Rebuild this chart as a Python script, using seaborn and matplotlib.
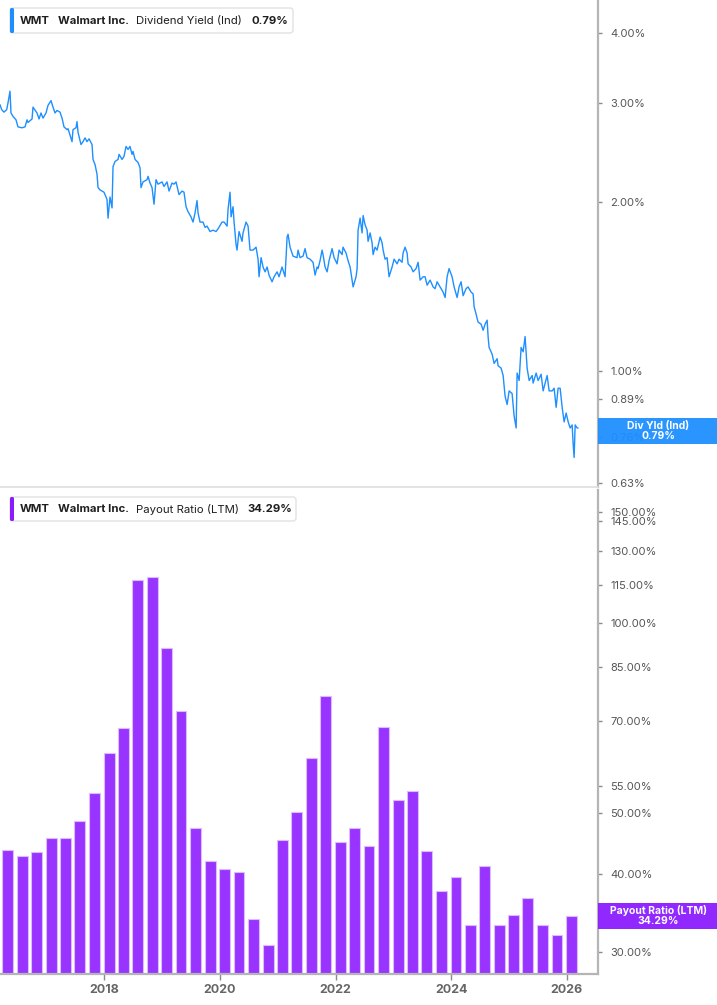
import numpy as np
import pandas as pd
import matplotlib
matplotlib.use("Agg")
import matplotlib.pyplot as plt
from matplotlib.patches import FancyBboxPatch, Rectangle
from matplotlib.ticker import NullLocator
from matplotlib.transforms import IdentityTransform
import seaborn as sns

# Dividend yield (Ind), % (decimal years)
yield_year = [
    2016.196, 2016.225, 2016.265, 2016.312, 2016.334, 2016.369, 2016.386, 2016.421, 2016.473, 2016.507,
    2016.577, 2016.629, 2016.663, 2016.680, 2016.750, 2016.767, 2016.836, 2016.871, 2016.905, 2016.940,
    2016.992, 2017.026, 2017.078, 2017.113, 2017.148, 2017.182, 2017.234, 2017.269, 2017.303, 2017.355,
    2017.373, 2017.407, 2017.442, 2017.459, 2017.511, 2017.528, 2017.546, 2017.597, 2017.632, 2017.667,
    2017.701, 2017.736, 2017.788, 2017.805, 2017.840, 2017.874, 2017.892, 2017.926, 2017.995, 2018.047,
    2018.065, 2018.099, 2018.134, 2018.151, 2018.186, 2018.238, 2018.255, 2018.307, 2018.341, 2018.376,
    2018.411, 2018.445, 2018.480, 2018.497, 2018.532, 2018.584, 2018.618, 2018.635, 2018.670, 2018.739,
    2018.757, 2018.791, 2018.826, 2018.860, 2018.895, 2018.930, 2018.999, 2019.033, 2019.085, 2019.120,
    2019.172, 2019.206, 2019.241, 2019.293, 2019.345, 2019.379, 2019.414, 2019.449, 2019.500, 2019.535,
    2019.570, 2019.604, 2019.622, 2019.656, 2019.708, 2019.743, 2019.777, 2019.829, 2019.881, 2019.933,
    2019.968, 2020.037, 2020.072, 2020.124, 2020.141, 2020.175, 2020.193, 2020.227, 2020.245, 2020.279,
    2020.296, 2020.331, 2020.383, 2020.400, 2020.452, 2020.487, 2020.521, 2020.573, 2020.625, 2020.660,
    2020.677, 2020.712, 2020.746, 2020.781, 2020.816, 2020.850, 2020.902, 2020.937, 2020.989, 2021.023,
    2021.075, 2021.127, 2021.162, 2021.179, 2021.213, 2021.265, 2021.334, 2021.352, 2021.386, 2021.438,
    2021.473, 2021.507, 2021.559, 2021.611, 2021.646, 2021.680, 2021.698, 2021.732, 2021.767, 2021.784,
    2021.819, 2021.854, 2021.888, 2021.940, 2021.975, 2022.027, 2022.061, 2022.113, 2022.130, 2022.182,
    2022.217, 2022.252, 2022.286, 2022.304, 2022.355, 2022.373, 2022.390, 2022.425, 2022.459, 2022.477,
    2022.511, 2022.546, 2022.563, 2022.598, 2022.632, 2022.650, 2022.684, 2022.719, 2022.771, 2022.805,
    2022.823, 2022.857, 2022.892, 2022.926, 2022.978, 2023.013, 2023.065, 2023.099, 2023.151, 2023.168,
    2023.203, 2023.238, 2023.255, 2023.307, 2023.342, 2023.393, 2023.428, 2023.463, 2023.515, 2023.549,
    2023.584, 2023.636, 2023.688, 2023.722, 2023.757, 2023.809, 2023.861, 2023.895, 2023.930, 2023.964,
    2024.016, 2024.051, 2024.103, 2024.137, 2024.172, 2024.207, 2024.258, 2024.293, 2024.345, 2024.380,
    2024.397, 2024.432, 2024.466, 2024.518, 2024.553, 2024.587, 2024.622, 2024.639, 2024.656, 2024.708,
    2024.743, 2024.795, 2024.812, 2024.864, 2024.899, 2024.933, 2024.968, 2025.003, 2025.054, 2025.089,
    2025.124, 2025.141, 2025.176, 2025.210, 2025.245, 2025.279, 2025.314, 2025.349, 2025.401, 2025.418,
    2025.470, 2025.504, 2025.556, 2025.591, 2025.660, 2025.695, 2025.747, 2025.781, 2025.816, 2025.850,
    2025.885, 2025.920, 2025.954, 2025.989, 2026.024, 2026.058, 2026.093, 2026.110, 2026.127, 2026.145,
    2026.179, 2026.196,
]
yield_pct = [
    2.98, 2.92, 2.89, 2.92, 3.00, 3.15, 2.88, 2.84, 2.80, 2.72,
    2.71, 2.72, 2.80, 2.77, 2.81, 2.95, 2.88, 2.81, 2.88, 2.82,
    2.88, 2.97, 3.03, 2.95, 2.88, 2.91, 2.89, 2.82, 2.72, 2.69,
    2.70, 2.63, 2.56, 2.69, 2.71, 2.78, 2.66, 2.53, 2.56, 2.60,
    2.56, 2.59, 2.53, 2.38, 2.33, 2.24, 2.12, 2.10, 2.08, 2.02,
    1.87, 2.04, 1.95, 2.31, 2.36, 2.38, 2.43, 2.38, 2.41, 2.51,
    2.48, 2.51, 2.43, 2.46, 2.38, 2.35, 2.30, 2.12, 2.17, 2.19,
    2.22, 2.16, 2.12, 1.98, 2.19, 2.15, 2.17, 2.13, 2.17, 2.09,
    2.16, 2.15, 2.17, 2.06, 2.09, 2.08, 1.96, 1.92, 1.88, 1.84,
    1.91, 2.01, 1.91, 1.84, 1.84, 1.80, 1.81, 1.77, 1.78, 1.77,
    1.79, 1.84, 1.84, 1.81, 1.94, 2.08, 1.88, 1.96, 1.84, 1.68,
    1.64, 1.77, 1.70, 1.76, 1.84, 1.81, 1.64, 1.64, 1.66, 1.58,
    1.47, 1.59, 1.53, 1.50, 1.53, 1.48, 1.44, 1.47, 1.50, 1.47,
    1.53, 1.47, 1.73, 1.75, 1.66, 1.60, 1.59, 1.64, 1.59, 1.60,
    1.65, 1.59, 1.58, 1.56, 1.48, 1.53, 1.52, 1.57, 1.64, 1.61,
    1.53, 1.50, 1.57, 1.65, 1.59, 1.55, 1.64, 1.61, 1.66, 1.62,
    1.57, 1.53, 1.45, 1.41, 1.47, 1.52, 1.78, 1.87, 1.76, 1.89,
    1.82, 1.78, 1.70, 1.76, 1.69, 1.61, 1.66, 1.64, 1.73, 1.69,
    1.64, 1.58, 1.59, 1.47, 1.53, 1.58, 1.55, 1.58, 1.56, 1.62,
    1.66, 1.62, 1.55, 1.53, 1.50, 1.52, 1.56, 1.45, 1.47, 1.47,
    1.42, 1.45, 1.41, 1.40, 1.44, 1.41, 1.38, 1.35, 1.47, 1.52,
    1.47, 1.41, 1.35, 1.41, 1.44, 1.36, 1.40, 1.41, 1.38, 1.37,
    1.30, 1.26, 1.22, 1.21, 1.18, 1.21, 1.23, 1.15, 1.10, 1.07,
    1.03, 1.05, 1.02, 1.01, 0.98, 0.90, 0.87, 0.92, 0.91, 0.83,
    0.79, 0.99, 0.96, 1.10, 1.08, 1.15, 1.01, 0.96, 0.98, 0.95,
    0.99, 0.96, 0.985, 0.92, 0.98, 0.92, 0.92, 0.93, 0.86, 0.93,
    0.93, 0.86, 0.81, 0.84, 0.81, 0.79, 0.80, 0.74, 0.70, 0.80,
    0.79, 0.79,
]

# Payout ratio (LTM), %, one bar per fiscal quarter end
quarter_end = pd.date_range("2016-04-30", "2026-01-31", freq="QE-JAN").strftime("%Y-%m-%d").tolist()
payout_pct = [
    43.6, 42.6, 43.3, 45.5, 45.5, 48.5, 53.7, 62.2, 68.1, 117.2,
    118.5, 91.4, 72.5, 47.3, 41.9, 40.7, 40.2, 33.9, 30.8, 45.2,
    50.1, 61.1, 76.6, 44.9, 47.3, 44.2, 68.4, 52.4, 54.1, 43.4,
    37.5, 39.5, 33.1, 41.1, 33.2, 34.4, 36.6, 33.2, 31.9, 34.29,
]

top_ticks = [4.00, 3.00, 2.00, 1.00, 0.89, 0.76, 0.63]
bot_ticks = [150, 145, 130, 115, 100, 85, 70, 55, 50, 40, 30]
year_ticks = [2018, 2020, 2022, 2024, 2026]

BLUE = "#1e8fff"
PURPLE = "#9933ff"
PURPLE_DARK = "#8b1cff"
AXIS_GREY = "#b5b5b5"
TEXT_DARK = "#1f1f1f"

sns.set_theme(style="white")
plt.rcParams["font.family"] = ["Inter", "DejaVu Sans"]

W, H = 717, 1005
fig = plt.figure(figsize=(W / 100, H / 100), dpi=100)
ident = IdentityTransform()

ax_top = fig.add_axes([0, 1 - 487 / H, 598 / W, 487 / H])
ax_bot = fig.add_axes([0, 1 - 974 / H, 598 / W, (974 - 490) / H])

# ---- top panel: dividend yield line
sns.lineplot(x=yield_year, y=yield_pct, ax=ax_top, color=BLUE, linewidth=1.0,
             estimator=None, sort=False)
ax_top.set_yscale("log")
ax_top.set_ylim(0.62, 4.58)

# ---- bottom panel: payout ratio bars (log axis set afterwards so bars keep a 0 base)
dq = pd.to_datetime(pd.Series(quarter_end))
bar_x = (dq.dt.year + (dq.dt.dayofyear - 0.5) / 365.25).round(3)
sns.barplot(x=bar_x, y=payout_pct, ax=ax_bot, native_scale=True, width=0.78,
            color=PURPLE, saturation=1, edgecolor="#dcbcff", linewidth=0.8)
ax_bot.set_yscale("log")
ax_bot.set_ylim(27.71, 162.6)

for ax, ticks in [(ax_top, top_ticks), (ax_bot, bot_ticks)]:
    ax.set_xlim(2016.196, 2026.54)
    ax.yaxis.tick_right()
    ax.yaxis.set_minor_locator(NullLocator())
    ax.set_yticks(ticks)
    ax.set_yticklabels(["{:.2f}%".format(t) for t in ticks])
    ax.tick_params(axis="y", which="major", direction="out", length=3, width=1,
                   color="#8a8a8a", labelsize=8, labelcolor="#555555", pad=6, left=False)
    ax.set_xlabel("")
    ax.set_ylabel("")
    for s in ["left", "top"]:
        ax.spines[s].set_visible(False)
    ax.spines["right"].set_color(AXIS_GREY)
    ax.spines["right"].set_linewidth(1.6)
    ax.set_facecolor("white")

ax_top.set_xticks([])
ax_top.spines["bottom"].set_color("#dedede")
ax_top.spines["bottom"].set_linewidth(1.2)

ax_bot.xaxis.set_minor_locator(NullLocator())
ax_bot.set_xticks(year_ticks)
ax_bot.set_xticklabels([str(y) for y in year_ticks], fontweight="bold")
ax_bot.tick_params(axis="x", direction="out", length=4, width=1, color="#8a8a8a",
                   labelsize=9, labelcolor="#666666", pad=3, bottom=True)
ax_bot.spines["bottom"].set_color(AXIS_GREY)
ax_bot.spines["bottom"].set_linewidth(1.6)


def px_text(x, y, s, **kw):
    fig.text(x, H - y, s, transform=ident, **kw)


def legend_box(x0, y0, x1, y1, color, parts):
    box = FancyBboxPatch((x0, H - y1), x1 - x0, y1 - y0,
                         boxstyle="round,pad=0,rounding_size=3", transform=ident,
                         facecolor="white", edgecolor="#e2e2e2", linewidth=1.0, zorder=5)
    fig.add_artist(box)
    bar = FancyBboxPatch((x0, H - y1), 4, y1 - y0,
                         boxstyle="round,pad=0,rounding_size=1.5", transform=ident,
                         facecolor=color, edgecolor="none", zorder=6)
    fig.add_artist(bar)
    yc = (y0 + y1) / 2
    for x, s, w in parts:
        px_text(x, yc, s, ha="left", va="center", fontsize=8.2, fontweight=w,
                color=TEXT_DARK, zorder=7)


legend_box(10, 8, 293, 33, BLUE, [
    (20, "WMT", "bold"), (58, "Walmart Inc.", "bold"),
    (136, "Dividend Yield (Ind)", "normal"), (251, "0.79%", "bold"),
])
legend_box(10, 497, 296, 521, PURPLE_DARK, [
    (20, "WMT", "bold"), (58, "Walmart Inc.", "bold"),
    (136, "Payout Ratio (LTM)", "normal"), (247, "34.29%", "bold"),
])


def value_tag(ax, value, color, label, dy=0):
    fig.canvas.draw()
    y_disp = ax.transData.transform((2020, value))[1] - dy
    rect = Rectangle((598, y_disp - 13), W - 598, 26, transform=ident,
                     facecolor=color, edgecolor="none", alpha=0.95, zorder=8)
    fig.add_artist(rect)
    fig.text(658, y_disp, label, transform=ident, ha="center", va="center",
             fontsize=7.5, fontweight="bold", color="white", linespacing=1.05, zorder=9)


value_tag(ax_top, yield_pct[-1], BLUE, "Div Yld (Ind)\n0.79%", dy=3)
value_tag(ax_bot, payout_pct[-1], PURPLE_DARK, "Payout Ratio (LTM)\n34.29%")

fig.savefig("out.png", dpi=100)
